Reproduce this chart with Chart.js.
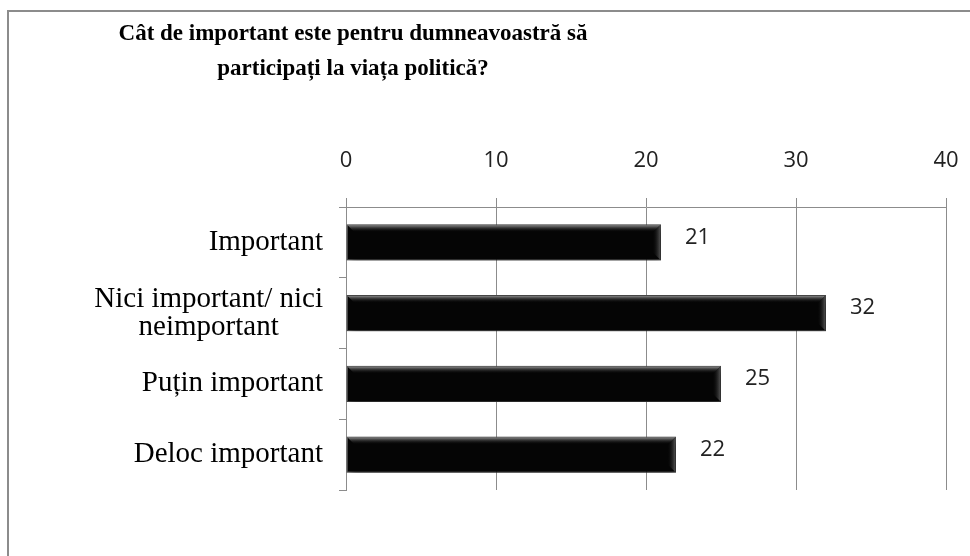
<!DOCTYPE html>
<html>
<head>
<meta charset="utf-8">
<script src="https://cdn.jsdelivr.net/npm/chart.js@4.4.1/dist/chart.umd.min.js"></script>
<style>
	html, body { margin: 0; padding: 0; background: #fff; }
	canvas { display: block; }
</style>
</head>
<body>
<canvas id="chart" width="970" height="556"></canvas>
<script>
var titleLines = ['Cât de important este pentru dumneavoastră să', 'participați la viața politică?'];
var categories = ['Important', ['Nici important/ nici', 'neimportant'], 'Puțin important', 'Deloc important'];
var values     = [21, 32, 25, 22];
var axisMin    = 0;
var axisMax    = 40;
var axisStep   = 10;

var serif = '"Liberation Serif", "DejaVu Serif", serif';
var sans  = '"Open Sans", "DejaVu Sans", sans-serif';

// frame, title, category labels, bar bevel + shadow, value labels
var decor = {
	id : 'decor',
	beforeDraw : function(chart) {
		var ctx = chart.ctx;
		ctx.save();
		ctx.fillStyle = '#fff';
		ctx.fillRect(0, 0, chart.width, chart.height);
		ctx.strokeStyle = '#8c8c8c';
		ctx.lineWidth = 2;
		ctx.beginPath();
		ctx.moveTo(8, chart.height);
		ctx.lineTo(8, 11);
		ctx.lineTo(chart.width, 11);
		ctx.stroke();

		ctx.fillStyle = '#000';
		ctx.font = 'bold 23px ' + serif;
		ctx.textAlign = 'center';
		ctx.textBaseline = 'middle';
		titleLines.forEach(function(t, i) {
			ctx.fillText(t, 353, 34 + i * 35);
		});
		ctx.restore();
	},
	beforeDatasetsDraw : function(chart) {
		var ctx = chart.ctx;
		ctx.save();
		ctx.shadowColor = 'rgba(0,0,0,0.5)';
		ctx.shadowBlur = 8;
		ctx.shadowOffsetX = 2;
		ctx.shadowOffsetY = 5;
	},
	afterDatasetsDraw : function(chart) {
		var ctx = chart.ctx;
		ctx.restore();
		ctx.save();
		var meta = chart.getDatasetMeta(0);
		meta.data.forEach(function(bar, i) {
			var l = bar.base, r = bar.x;
			var t = bar.y - bar.height / 2, b = bar.y + bar.height / 2;
			var g = ctx.createLinearGradient(0, t, 0, t + 8);
			g.addColorStop(0, 'rgba(170,170,170,1)');
			g.addColorStop(1, 'rgba(0,0,0,0)');
			ctx.fillStyle = g;
			ctx.beginPath();
			ctx.moveTo(l + 1, t + 1);
			ctx.lineTo(r - 1, t + 1);
			ctx.lineTo(r - 9, t + 9);
			ctx.lineTo(l + 9, t + 9);
			ctx.closePath();
			ctx.fill();
			var g2 = ctx.createLinearGradient(r - 9, 0, r, 0);
			g2.addColorStop(0, 'rgba(0,0,0,0)');
			g2.addColorStop(1, 'rgba(110,110,110,0.85)');
			ctx.fillStyle = g2;
			ctx.beginPath();
			ctx.moveTo(r - 1, t + 1);
			ctx.lineTo(r - 1, b - 1);
			ctx.lineTo(r - 9, b - 9);
			ctx.lineTo(r - 9, t + 9);
			ctx.closePath();
			ctx.fill();

			ctx.fillStyle = '#222';
			ctx.font = '22px ' + sans;
			ctx.textAlign = 'left';
			ctx.textBaseline = 'middle';
			ctx.fillText(String(values[i]), r + 24, bar.y - 5);
		});

		var y = chart.scales.y;
		ctx.fillStyle = '#000';
		ctx.font = '29px ' + serif;
		ctx.textAlign = 'center';
		ctx.textBaseline = 'middle';
		var right = y.right - 23;
		categories.forEach(function(c, i) {
			var lines = Array.isArray(c) ? c : [c];
			var w = 0;
			lines.forEach(function(s) { w = Math.max(w, ctx.measureText(s).width); });
			var cy = y.getPixelForTick(i);
			var lh = 28;
			lines.forEach(function(s, k) {
				ctx.fillText(s, right - w / 2, cy + (k - (lines.length - 1) / 2) * lh);
			});
		});
		ctx.restore();
	}
};

var config = {
	type    : 'bar',
	data    : {
		labels   : categories,
		datasets : [
			{
				data               : values,
				backgroundColor    : '#050505',
				borderColor        : '#4a4a4a',
				borderWidth        : 1,
				borderSkipped      : false,
				barPercentage      : 0.51,
				categoryPercentage : 1
			}
		]
	},
	options : {
		indexAxis  : 'y',
		responsive : false,
		animation  : false,
		layout     : {
			padding : { left : 0, top : 0, right : 24, bottom : 66 }
		},
		plugins    : {
			legend  : { display : false },
			title   : { display : false },
			tooltip : { enabled : false }
		},
		scales     : {
			x : {
				position : 'top',
				min      : axisMin,
				max      : axisMax,
				ticks    : {
					stepSize : axisStep,
					padding  : 24,
					color    : '#222',
					font     : { family : sans, size : 22 }
				},
				grid     : {
					color      : '#8c8c8c',
					lineWidth  : 1,
					tickLength : 9
				},
				border   : { color : '#8c8c8c' },
				afterFit : function(s) {
					s.height = 207;
					s.paddingLeft = 0;
					s.paddingRight = 0;
				}
			},
			y : {
				ticks    : { display : false },
				grid     : {
					drawOnChartArea : false,
					color           : '#8c8c8c',
					tickLength      : 7,
					offset          : true
				},
				border   : { color : '#8c8c8c' },
				afterFit : function(s) { s.width = 346; }
			}
		}
	},
	plugins : [decor]
};

window.onload = function() {
	var ctx = document.getElementById('chart').getContext('2d');
	window.myBar = new Chart(ctx, config);
};
</script>
</body>
</html>
